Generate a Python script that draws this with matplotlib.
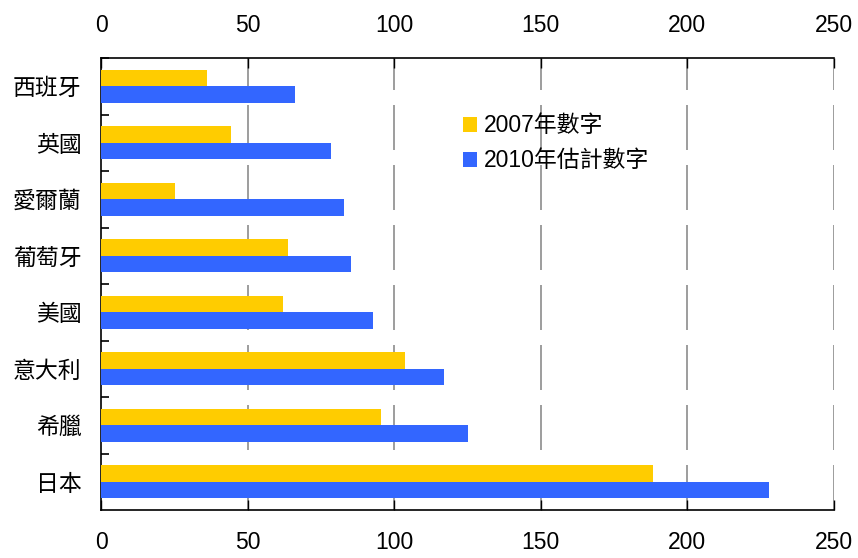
import matplotlib
matplotlib.use("Agg")
import matplotlib.pyplot as plt
from matplotlib.patches import Patch
import numpy as np

plt.rcParams['font.family'] = ['Liberation Sans', 'Noto Sans CJK TC', 'DejaVu Sans']

categories = ['西班牙', '英國', '愛爾蘭', '葡萄牙', '美國', '意大利', '希臘', '日本']
values_2007 = [36.2, 44.4, 25.3, 63.9, 62.2, 103.8, 95.6, 188.2]
values_2010 = [66.1, 78.4, 83.0, 85.4, 92.9, 117.1, 125.3, 227.8]
series_names = ['2007年數字', '2010年估計數字']
xticks = [0, 50, 100, 150, 200, 250]

c_yellow = '#FFCC00'
c_blue = '#3366FF'

fig = plt.figure(figsize=(8.58, 5.58), dpi=100)
ax = fig.add_axes([101/858, 1-510/558, (834-101)/858, (510-58)/558])

y = np.arange(len(categories))
h = 0.29
ax.barh(y - h/2, values_2007, height=h, color=c_yellow, zorder=3)
ax.barh(y + h/2, values_2010, height=h, color=c_blue, zorder=3)

ax.set_xlim(0, 250)
ax.set_ylim(len(categories) - 0.5, -0.5)
ax.set_xticks(xticks)
ax.set_xticklabels([str(t) for t in xticks])
ax.tick_params(axis='x', which='both', direction='in', length=7, width=1,
               top=True, labeltop=True, bottom=True, labelbottom=True,
               labelsize=16.5, pad=15, color='black')
ax.set_yticks(y)
ax.set_yticklabels(categories, fontsize=16.5, family=['Noto Sans CJK TC'])
ax.tick_params(axis='y', which='major', length=0, pad=14)
ax.set_yticks(np.arange(-0.5, len(categories) - 0.5, 1.0), minor=True)
ax.tick_params(axis='y', which='minor', direction='in', length=6, width=1.2)

ax.spines['right'].set_visible(False)
for s in ['top', 'bottom', 'left']:
    ax.spines[s].set_linewidth(1.2)
    ax.spines[s].set_color('black')

for xv in xticks[1:]:
    ax.axvline(xv, color='#8c8c8c', lw=1.2, linestyle=(0, (27, 9)), zorder=1)

handles = [Patch(facecolor=c_yellow, edgecolor='none'),
           Patch(facecolor=c_blue, edgecolor='none')]
fig.legend(handles, series_names, loc='upper left',
           bbox_to_anchor=(452/858, 1-103/558), frameon=False,
           prop={'family': ['Liberation Sans', 'Noto Sans CJK TC'], 'size': 16.5},
           handlelength=0.6, handleheight=0.6, handletextpad=0.3,
           labelspacing=0.52, borderpad=0)

fig.savefig('out.png', dpi=100)
